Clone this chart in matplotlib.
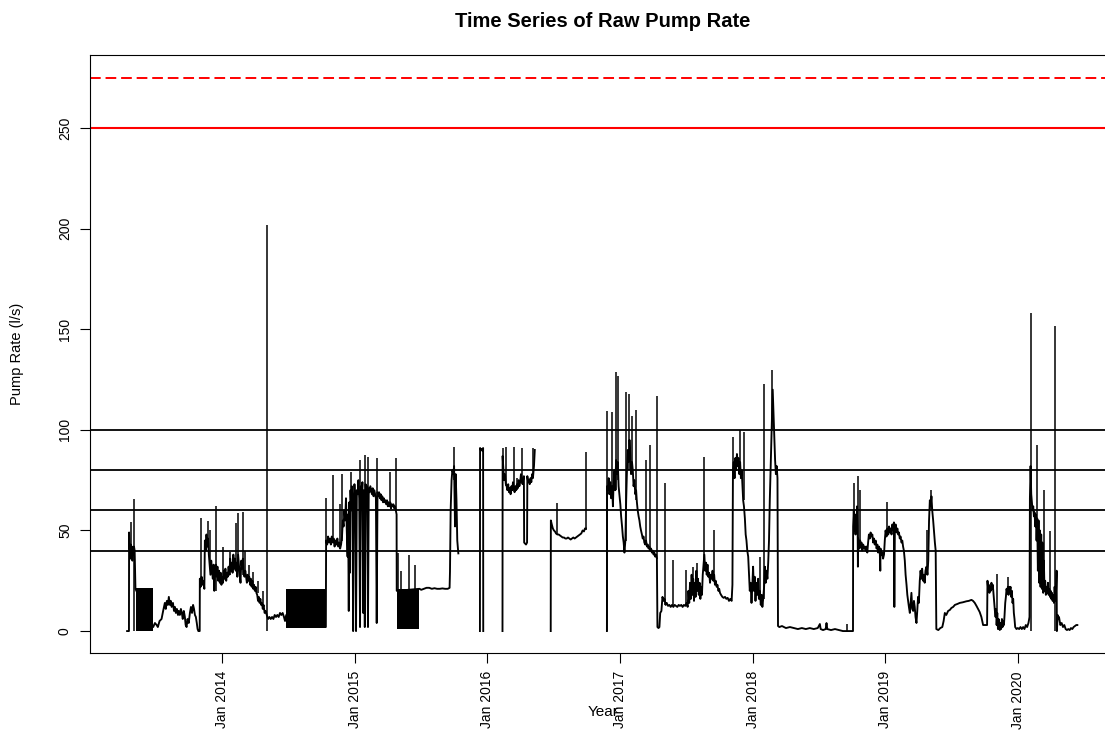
import numpy as np
import pandas as pd
import matplotlib
matplotlib.use("Agg")
import matplotlib.pyplot as plt

plt.rcParams['font.family'] = ['Liberation Sans', 'DejaVu Sans']

# pump rate readings, (decimal year, l/s); each run is an unbroken stretch of logging
seg_2013 = [
    (2013.280, 0), (2013.294, 0), (2013.295, 49), (2013.300, 42), (2013.304, 36), (2013.308, 43),
    (2013.312, 37), (2013.316, 42), (2013.320, 35), (2013.324, 41), (2013.328, 38), (2013.332, 42),
    (2013.337, 40), (2013.343, 21),
    (2013.477, 2), (2013.490, 4), (2013.503, 3), (2013.512, 2), (2013.525, 5), (2013.540, 6),
    (2013.552, 10), (2013.565, 14), (2013.572, 11), (2013.580, 15), (2013.588, 13), (2013.595, 17),
    (2013.603, 13), (2013.610, 15), (2013.616, 12), (2013.626, 14), (2013.634, 10), (2013.641, 12),
    (2013.648, 9), (2013.656, 11), (2013.664, 8), (2013.670, 10), (2013.678, 8), (2013.686, 11),
    (2013.693, 9), (2013.700, 6), (2013.708, 10), (2013.716, 7), (2013.722, 3), (2013.729, 2),
    (2013.736, 6), (2013.745, 4), (2013.754, 9), (2013.762, 12), (2013.770, 9), (2013.778, 13),
    (2013.785, 11), (2013.792, 8), (2013.799, 7), (2013.806, 4), (2013.812, 1), (2013.818, 0),
    (2013.828, 0),
]
seg_2014 = [
    (2013.829, 26), (2013.835, 22), (2013.842, 27), (2013.850, 23), (2013.856, 25), (2013.863, 21),
    (2013.867, 45), (2013.873, 40), (2013.879, 48), (2013.885, 42), (2013.891, 46), (2013.897, 38),
    (2013.903, 33), (2013.909, 28), (2013.915, 35), (2013.921, 30), (2013.927, 26), (2013.933, 33),
    (2013.938, 20), (2013.944, 29), (2013.950, 33), (2013.956, 27), (2013.962, 32), (2013.968, 25),
    (2013.974, 30), (2013.980, 24), (2013.986, 29), (2013.992, 23), (2013.998, 27), (2014.004, 24),
    (2014.010, 30), (2014.016, 26), (2014.022, 31), (2014.028, 25), (2014.034, 29), (2014.040, 27),
    (2014.046, 32), (2014.052, 28), (2014.058, 36), (2014.064, 30), (2014.070, 34), (2014.076, 29),
    (2014.082, 38), (2014.088, 31), (2014.094, 36), (2014.100, 30), (2014.106, 34), (2014.112, 27),
    (2014.118, 38), (2014.124, 33), (2014.130, 28), (2014.136, 24), (2014.142, 35), (2014.148, 31),
    (2014.154, 36), (2014.160, 29), (2014.166, 27), (2014.172, 30), (2014.178, 27), (2014.184, 24),
    (2014.190, 28), (2014.196, 25), (2014.202, 27), (2014.208, 23), (2014.214, 26), (2014.220, 22),
    (2014.226, 25), (2014.232, 21), (2014.238, 23), (2014.244, 20), (2014.250, 22), (2014.256, 19),
    (2014.262, 18), (2014.268, 15), (2014.274, 17), (2014.280, 14), (2014.286, 16), (2014.292, 13),
    (2014.298, 14), (2014.304, 11), (2014.310, 13), (2014.318, 9), (2014.326, 10), (2014.334, 8),
    (2014.344, 6), (2014.354, 7), (2014.364, 6), (2014.374, 7), (2014.384, 6), (2014.394, 8),
    (2014.404, 7), (2014.414, 8), (2014.424, 7), (2014.434, 9), (2014.444, 8), (2014.454, 9),
    (2014.464, 7), (2014.472, 5), (2014.481, 8),
]
seg_2015 = [
    (2014.780, 2), (2014.782, 45), (2014.790, 43), (2014.797, 47), (2014.804, 44), (2014.811, 46),
    (2014.818, 43), (2014.825, 47), (2014.832, 44), (2014.839, 46), (2014.846, 42), (2014.853, 45),
    (2014.860, 43), (2014.867, 46), (2014.874, 42), (2014.881, 44), (2014.888, 41), (2014.895, 43),
    (2014.902, 47), (2014.908, 55), (2014.914, 52), (2014.920, 60), (2014.926, 55), (2014.932, 66),
    (2014.938, 50), (2014.944, 37), (2014.948, 58), (2014.953, 10), (2014.957, 64), (2014.962, 29),
    (2014.966, 70), (2014.971, 60), (2014.976, 72), (2014.981, 66), (2014.986, 0), (2014.990, 62),
    (2014.996, 73), (2015.002, 65), (2015.008, 0), (2015.014, 70), (2015.020, 68), (2015.026, 75),
    (2015.032, 66), (2015.038, 2), (2015.044, 72), (2015.050, 67), (2015.056, 74), (2015.062, 9),
    (2015.068, 70), (2015.074, 2), (2015.080, 73), (2015.086, 68), (2015.092, 72), (2015.098, 2),
    (2015.104, 71), (2015.110, 69), (2015.116, 72), (2015.122, 70), (2015.128, 68), (2015.134, 71),
    (2015.140, 67), (2015.146, 70), (2015.152, 68), (2015.158, 66), (2015.164, 4), (2015.170, 69),
    (2015.176, 67), (2015.182, 69), (2015.188, 66), (2015.194, 68), (2015.200, 65), (2015.206, 67),
    (2015.212, 64), (2015.218, 66), (2015.224, 64), (2015.230, 65), (2015.236, 63), (2015.242, 65),
    (2015.248, 62), (2015.254, 64), (2015.260, 62), (2015.266, 64), (2015.272, 61), (2015.278, 63),
    (2015.284, 62), (2015.290, 63), (2015.296, 61), (2015.302, 62), (2015.308, 60), (2015.314, 58),
    (2015.315, 20),
    (2015.487, 21), (2015.500, 20.5), (2015.520, 21), (2015.540, 21.5), (2015.560, 21.5),
    (2015.580, 21), (2015.600, 21.3), (2015.620, 21), (2015.640, 21), (2015.660, 21.2),
    (2015.680, 21), (2015.700, 21), (2015.714, 21.5), (2015.717, 29.5), (2015.722, 60),
    (2015.729, 75), (2015.735, 80), (2015.742, 78), (2015.748, 82), (2015.755, 52), (2015.760, 78),
    (2015.766, 65), (2015.772, 45), (2015.780, 38.6),
]
seg_2015_dec = [
    (2015.943, 0), (2015.944, 91), (2015.950, 90), (2015.956, 90.5), (2015.962, 89.5),
    (2015.967, 91), (2015.968, 0),
]
seg_2016_spring = [
    (2016.113, 0), (2016.114, 87), (2016.120, 80), (2016.126, 75), (2016.132, 78), (2016.138, 73),
    (2016.144, 72), (2016.150, 70), (2016.156, 73), (2016.162, 69), (2016.168, 71), (2016.174, 68),
    (2016.180, 72), (2016.186, 70), (2016.192, 74), (2016.198, 71), (2016.204, 69), (2016.210, 72),
    (2016.216, 70), (2016.222, 73), (2016.228, 71), (2016.234, 75), (2016.240, 72), (2016.246, 74),
    (2016.252, 78), (2016.258, 75), (2016.264, 73), (2016.270, 76), (2016.274, 77), (2016.276, 44),
    (2016.290, 43), (2016.298, 44), (2016.300, 77), (2016.306, 74), (2016.312, 75), (2016.318, 73),
    (2016.324, 76), (2016.330, 74), (2016.336, 78), (2016.342, 76), (2016.350, 82), (2016.356, 90),
]
seg_2016_summer = [
    (2016.476, 0), (2016.477, 55), (2016.484, 53), (2016.492, 51), (2016.500, 50), (2016.508, 49.5),
    (2016.516, 48.5), (2016.526, 48), (2016.536, 48), (2016.546, 47.5), (2016.556, 47),
    (2016.566, 46.5), (2016.576, 46.5), (2016.586, 46), (2016.596, 46), (2016.606, 46.5),
    (2016.616, 46), (2016.626, 45.5), (2016.636, 46), (2016.646, 46.5), (2016.656, 46),
    (2016.666, 46.5), (2016.676, 47), (2016.686, 47.5), (2016.696, 48), (2016.706, 48.5),
    (2016.716, 50), (2016.726, 49.5), (2016.734, 51), (2016.741, 51),
]
seg_2017 = [
    (2016.899, 0), (2016.900, 72), (2016.906, 70), (2016.912, 76), (2016.918, 68), (2016.925, 74),
    (2016.931, 66), (2016.938, 72), (2016.944, 62), (2016.950, 75), (2016.956, 80), (2016.962, 70),
    (2016.968, 85), (2016.975, 78), (2016.981, 84), (2016.987, 72), (2016.993, 68), (2017.000, 63),
    (2017.006, 57), (2017.013, 52), (2017.019, 47), (2017.025, 44), (2017.031, 39), (2017.038, 45),
    (2017.044, 65), (2017.050, 80), (2017.056, 90), (2017.063, 84), (2017.069, 95), (2017.075, 88),
    (2017.081, 78), (2017.088, 84), (2017.094, 80), (2017.100, 72), (2017.106, 75), (2017.113, 68),
    (2017.119, 70), (2017.125, 64), (2017.131, 60), (2017.138, 57), (2017.144, 55), (2017.150, 52),
    (2017.156, 50), (2017.163, 48), (2017.169, 46), (2017.175, 47), (2017.181, 44), (2017.188, 43),
    (2017.194, 45), (2017.201, 42), (2017.207, 43), (2017.213, 41), (2017.219, 42), (2017.226, 40),
    (2017.232, 41), (2017.238, 39), (2017.244, 40), (2017.251, 38), (2017.257, 39), (2017.263, 37),
    (2017.270, 38), (2017.276, 36), (2017.280, 2), (2017.288, 1.5), (2017.295, 2), (2017.301, 9),
    (2017.310, 10), (2017.318, 17), (2017.326, 15), (2017.334, 16), (2017.342, 13), (2017.350, 14),
    (2017.360, 12.5), (2017.370, 13), (2017.380, 12), (2017.390, 13), (2017.400, 12), (2017.410, 13),
    (2017.420, 12.5), (2017.430, 12), (2017.440, 13), (2017.450, 12.5), (2017.460, 13),
    (2017.470, 12), (2017.480, 13), (2017.490, 12.5), (2017.500, 14), (2017.508, 12), (2017.514, 20),
    (2017.520, 14), (2017.526, 24), (2017.532, 16), (2017.538, 28), (2017.544, 18), (2017.550, 26),
    (2017.556, 15), (2017.562, 24), (2017.568, 17), (2017.574, 30), (2017.580, 20), (2017.586, 26),
    (2017.592, 18), (2017.598, 24), (2017.604, 16), (2017.610, 22), (2017.616, 18), (2017.622, 28),
    (2017.628, 33), (2017.634, 38), (2017.640, 30), (2017.646, 34), (2017.652, 28), (2017.658, 33),
    (2017.664, 27), (2017.670, 29), (2017.677, 24), (2017.683, 28), (2017.690, 26), (2017.696, 30),
    (2017.702, 25), (2017.708, 28), (2017.714, 23), (2017.720, 25), (2017.727, 22), (2017.733, 23),
    (2017.740, 20), (2017.746, 21), (2017.752, 19), (2017.760, 18), (2017.770, 17), (2017.780, 16.5),
    (2017.790, 17), (2017.800, 16), (2017.810, 16.5), (2017.820, 15), (2017.830, 16), (2017.840, 15),
    (2017.846, 23),
]
seg_2018 = [
    (2017.850, 80), (2017.856, 84), (2017.862, 76), (2017.868, 86), (2017.874, 80), (2017.880, 88),
    (2017.886, 82), (2017.892, 86), (2017.898, 78), (2017.904, 84), (2017.910, 76), (2017.916, 80),
    (2017.922, 72), (2017.927, 65), (2017.933, 62), (2017.940, 56), (2017.946, 48), (2017.952, 45),
    (2017.958, 40), (2017.965, 37), (2017.971, 28), (2017.977, 20), (2017.983, 24), (2017.990, 14),
    (2017.996, 22), (2018.002, 32), (2018.008, 20), (2018.014, 27), (2018.020, 15), (2018.026, 24),
    (2018.033, 18), (2018.040, 26), (2018.046, 16), (2018.053, 20), (2018.060, 13), (2018.066, 18),
    (2018.072, 12), (2018.078, 16), (2018.085, 22), (2018.091, 32), (2018.097, 24), (2018.103, 30),
    (2018.110, 26), (2018.116, 34), (2018.122, 45), (2018.128, 65), (2018.134, 80), (2018.140, 95),
    (2018.146, 112), (2018.150, 120), (2018.156, 108), (2018.162, 96), (2018.168, 85),
    (2018.174, 78), (2018.180, 82), (2018.186, 76), (2018.190, 2.5), (2018.200, 2), (2018.220, 2.5),
    (2018.250, 1.5), (2018.280, 2), (2018.310, 1.5), (2018.340, 1), (2018.370, 1.5), (2018.400, 1),
    (2018.430, 1.5), (2018.460, 1), (2018.490, 1.5), (2018.506, 3.5), (2018.512, 1), (2018.530, 0.5),
    (2018.550, 1), (2018.556, 4), (2018.562, 1), (2018.590, 0.5), (2018.620, 1), (2018.650, 0.5),
    (2018.680, 0), (2018.720, 0), (2018.756, 0),
]
seg_2019 = [
    (2018.757, 52), (2018.762, 60), (2018.766, 50), (2018.770, 56), (2018.775, 48), (2018.779, 58),
    (2018.783, 49), (2018.787, 62), (2018.791, 52), (2018.793, 32), (2018.795, 46), (2018.800, 44),
    (2018.805, 41), (2018.810, 45), (2018.815, 42), (2018.820, 44), (2018.826, 40), (2018.833, 43),
    (2018.840, 41), (2018.846, 42), (2018.852, 40), (2018.858, 42), (2018.864, 39), (2018.870, 44),
    (2018.876, 48), (2018.883, 46), (2018.889, 49), (2018.895, 47), (2018.902, 48), (2018.908, 44),
    (2018.914, 46), (2018.920, 43), (2018.927, 45), (2018.934, 41), (2018.940, 43), (2018.946, 39),
    (2018.952, 42), (2018.958, 40), (2018.962, 30), (2018.964, 41), (2018.970, 38), (2018.977, 39),
    (2018.983, 36), (2018.990, 38), (2018.996, 45), (2019.002, 50), (2019.009, 47), (2019.016, 51),
    (2019.022, 48), (2019.028, 52), (2019.034, 49), (2019.040, 51), (2019.047, 48), (2019.053, 53),
    (2019.059, 50), (2019.065, 54), (2019.068, 12), (2019.072, 51), (2019.078, 53), (2019.085, 49),
    (2019.091, 51), (2019.097, 48), (2019.103, 49), (2019.109, 46), (2019.115, 47), (2019.122, 44),
    (2019.128, 45), (2019.134, 42), (2019.140, 40), (2019.147, 35), (2019.153, 28), (2019.160, 23),
    (2019.166, 18), (2019.172, 15), (2019.178, 12), (2019.185, 9), (2019.191, 14), (2019.197, 19),
    (2019.203, 11), (2019.210, 10), (2019.216, 15), (2019.222, 12), (2019.228, 7), (2019.235, 4),
    (2019.241, 10), (2019.247, 17), (2019.253, 14), (2019.260, 25), (2019.266, 30), (2019.272, 26),
    (2019.278, 31), (2019.285, 25), (2019.291, 28), (2019.297, 24), (2019.303, 30), (2019.311, 32),
    (2019.318, 28), (2019.324, 35), (2019.330, 55), (2019.336, 65), (2019.342, 62), (2019.348, 67),
    (2019.354, 60), (2019.361, 55), (2019.367, 50), (2019.374, 44), (2019.380, 40), (2019.385, 1),
    (2019.400, 0.5), (2019.415, 1.5), (2019.430, 2), (2019.440, 5), (2019.449, 9), (2019.460, 8),
    (2019.474, 10), (2019.487, 10.5), (2019.499, 11.5), (2019.512, 12), (2019.525, 13),
    (2019.545, 13.5), (2019.562, 14), (2019.585, 14.3), (2019.612, 14.8), (2019.630, 15),
    (2019.650, 15.5), (2019.662, 15), (2019.675, 14), (2019.688, 12.5), (2019.700, 11),
    (2019.712, 9.5), (2019.725, 7), (2019.738, 3), (2019.750, 3), (2019.768, 3),
]
seg_2020 = [
    (2019.771, 25), (2019.776, 21), (2019.781, 23), (2019.786, 19), (2019.791, 22), (2019.796, 20),
    (2019.801, 24), (2019.806, 21), (2019.811, 23), (2019.816, 19), (2019.822, 14), (2019.827, 10),
    (2019.832, 7), (2019.836, 11), (2019.840, 3), (2019.845, 9), (2019.850, 1), (2019.855, 6),
    (2019.860, 2), (2019.864, 0.5), (2019.869, 4), (2019.874, 1), (2019.880, 6), (2019.885, 2),
    (2019.890, 5), (2019.895, 3), (2019.900, 8), (2019.905, 14), (2019.910, 17), (2019.915, 21),
    (2019.920, 19), (2019.925, 22), (2019.930, 18), (2019.935, 22), (2019.940, 20), (2019.945, 22),
    (2019.950, 17), (2019.955, 20), (2019.960, 14), (2019.965, 16), (2019.970, 9), (2019.975, 6),
    (2019.980, 2), (2019.990, 1), (2020.000, 1.5), (2020.010, 1), (2020.020, 2), (2020.030, 1),
    (2020.040, 2), (2020.050, 1), (2020.060, 3), (2020.070, 2), (2020.080, 4), (2020.088, 7),
    (2020.091, 66), (2020.096, 82), (2020.101, 68), (2020.106, 64), (2020.111, 60), (2020.116, 62),
    (2020.121, 57), (2020.126, 59), (2020.131, 52), (2020.136, 58), (2020.141, 45), (2020.146, 56),
    (2020.151, 30), (2020.156, 55), (2020.161, 24), (2020.166, 50), (2020.171, 22), (2020.176, 48),
    (2020.181, 21), (2020.186, 44), (2020.191, 19), (2020.196, 35), (2020.201, 20), (2020.206, 25),
    (2020.211, 18), (2020.217, 22), (2020.222, 19), (2020.227, 24), (2020.232, 18), (2020.237, 21),
    (2020.242, 17), (2020.247, 20), (2020.252, 16), (2020.257, 19), (2020.262, 15), (2020.267, 18),
    (2020.272, 14), (2020.277, 22), (2020.282, 15), (2020.287, 18), (2020.292, 30), (2020.294, 0),
    (2020.300, 8), (2020.305, 6), (2020.310, 7), (2020.320, 3), (2020.330, 4), (2020.340, 2),
    (2020.350, 3), (2020.360, 1), (2020.370, 0.5), (2020.380, 1), (2020.390, 0.5), (2020.400, 1.5),
    (2020.410, 1), (2020.420, 2), (2020.430, 2.5), (2020.440, 3), (2020.448, 3),
]

# stretches where the logger toggled between ~0 and ~21 l/s
band_start = [2013.344, 2014.482, 2015.315]
band_end = [2013.477, 2014.779, 2015.486]
band_lo = [0, 1.5, 1]
band_hi = [21.3, 21, 20.7]

# single-reading spikes: time, level before the spike, peak
spike_t = [2013.309, 2013.329, 2013.837, 2013.892, 2013.909, 2013.949, 2014.005, 2014.055,
           2014.100, 2014.118, 2014.151, 2014.168, 2014.201, 2014.231, 2014.269, 2014.306,
           2014.339, 2014.784, 2014.836, 2014.886, 2014.905, 2014.970, 2015.038, 2015.075,
           2015.100, 2015.169, 2015.268, 2015.313, 2015.325, 2015.348, 2015.408, 2015.452,
           2015.749, 2016.120, 2016.136, 2016.199, 2016.224, 2016.257, 2016.344, 2016.522,
           2016.741, 2016.900, 2016.938, 2016.968, 2016.980, 2017.045, 2017.062, 2017.088,
           2017.118, 2017.193, 2017.226, 2017.278, 2017.338, 2017.401, 2017.496, 2017.547,
           2017.577, 2017.632, 2017.707, 2017.852, 2017.902, 2017.932, 2018.053, 2018.083,
           2018.148, 2018.707, 2018.762, 2018.795, 2018.808, 2019.014, 2019.311, 2019.348,
           2019.844, 2019.927, 2020.098, 2020.141, 2020.198, 2020.241, 2020.281]
spike_lo = [40, 0, 24, 42, 35, 20, 25, 28,
            30, 30, 28, 27, 27, 21, 19, 11,
            0, 44, 44, 42, 45, 60, 66, 70,
            68, 66, 62, 60, 20, 20, 20, 20,
            75, 75, 72, 70, 70, 74, 76, 48,
            50, 0, 66, 70, 75, 45, 80, 78,
            65, 44, 40, 36, 13, 13, 13, 18,
            20, 30, 26, 80, 78, 65, 18, 16,
            100, 0, 50, 46, 44, 47, 28, 60,
            3, 18, 0, 50, 30, 18, 0]
spike_hi = [54, 65.5, 56, 54.5, 50, 62, 42, 39.5,
            53.5, 58.5, 59, 40, 33, 29.5, 25, 20,
            202, 66, 77.5, 63, 78, 79, 85, 87.5,
            86.5, 86, 79, 86, 39, 30, 38, 33,
            91.6, 91, 91.6, 91.6, 76, 91, 91, 63.5,
            89, 109.3, 109, 129, 127, 119, 118, 107,
            110, 85, 92.5, 117, 73.5, 35.4, 30.4, 32,
            34, 86.5, 50, 96.6, 100, 99, 37, 123,
            129.7, 3.5, 73.4, 77, 70, 64.3, 50, 70,
            28.5, 27, 158, 92.5, 70, 49.7, 151.6]

ref_black = [40, 60, 80, 100]
ref_red = 250
ref_red_dashed = 275

runs = [seg_2013 + seg_2014 + seg_2015, seg_2015_dec, seg_2016_spring, seg_2016_summer,
        seg_2017 + seg_2018 + seg_2019 + seg_2020]


def year_to_date(t):
    t = np.asarray(t, dtype=float)
    yr = np.floor(t).astype(int)
    start = pd.to_datetime([f"{y}-01-01" for y in yr])
    end = pd.to_datetime([f"{y + 1}-01-01" for y in yr])
    days = (end - start).days.values * (t - yr)
    return start + pd.to_timedelta(days, unit="D")


fig = plt.figure(figsize=(11.05, 7.4), dpi=100)
ax = fig.add_axes([90 / 1105, 87 / 740, 1026 / 1105, 598 / 740])

for run in runs:
    t, v = zip(*run)
    ax.plot(year_to_date(t), v, color="black", lw=1.35)

for s, e, lo, hi in zip(band_start, band_end, band_lo, band_hi):
    ax.fill_between(year_to_date([s, e]), lo, hi, color="black", lw=0)

ax.vlines(year_to_date(spike_t), spike_lo, spike_hi, color="black", lw=1.1)

for y in ref_black:
    ax.axhline(y, color="black", lw=1.3)
ax.axhline(ref_red, color="red", lw=1.5)
ax.axhline(ref_red_dashed, color="red", lw=1.4, ls=(0, (5.5, 2.5)))

ax.set_xlim(year_to_date([2013.0, 2020.739]))
ax.set_ylim(-10.9, 286.3)

years = list(range(2014, 2021))
ax.set_xticks(year_to_date(years))
ax.set_xticklabels([f"Jan {y}" for y in years], rotation=90, fontsize=10)
ax.set_yticks([0, 50, 100, 150, 200, 250])
ax.set_yticklabels(["0", "50", "100", "150", "200", "250"], rotation=90, fontsize=10, va="center")
ax.tick_params(direction="out", length=7, width=0.8, pad=6)
for sp in ax.spines.values():
    sp.set_linewidth(0.8)

ax.set_title("Time Series of Raw Pump Rate", fontsize=14.5, fontweight="bold", pad=20)
fig.text(17 / 1105, 1 - 354 / 740, "Pump Rate (l/s)", rotation=90, ha="center", va="center", fontsize=10.5)
fig.text(603 / 1105, 1 - 712 / 740, "Year", ha="center", va="center", fontsize=11)

fig.savefig("out.png", dpi=100)
